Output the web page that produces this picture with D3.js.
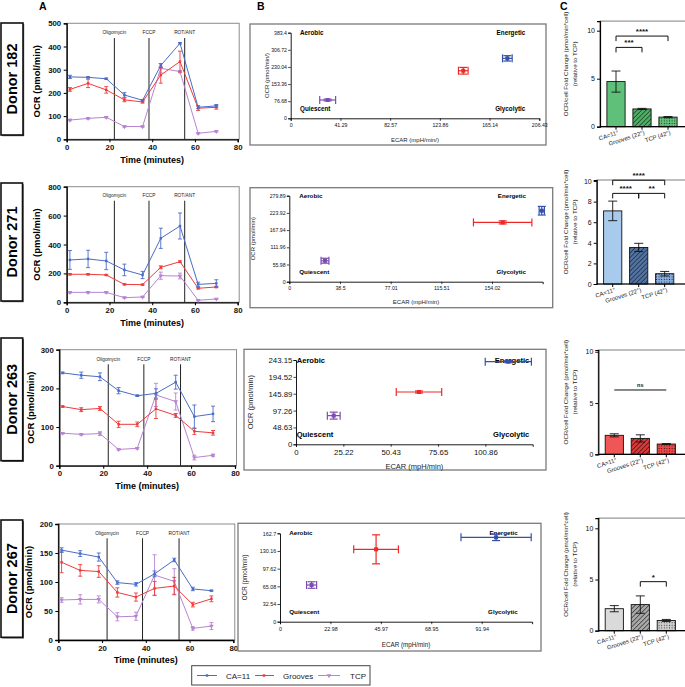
<!DOCTYPE html>
<html><head><meta charset="utf-8">
<script src="https://cdn.jsdelivr.net/npm/d3@7"></script>
<style>body{margin:0;background:#fff} svg{display:block;font-family:"Liberation Sans",Arial,sans-serif}</style>
</head><body><svg id="c" width="685" height="687"></svg>
<script>
// ---------------- DATA ----------------
const timePoints = [1.5, 10, 18.5, 27, 35.5, 44, 53, 61.5, 70];
const injectionNames = ["Oligomycin", "FCCP", "ROT/ANT"];
const injectionTimes = [22.3, 38.5, 55.2];
const seriesNames = ["CA=11", "Grooves", "TCP"];
const donorNames = ["Donor 182", "Donor 271", "Donor 263", "Donor 267"];

// Panel A: OCR time courses (pmol/min)
const ocr182CA = [269, 267, 261, 191, 168, 318, 414, 138, 144];
const ocr182CAErr = [7, 3, 3, 10, 4, 8, 3, 6, 6];
const ocr182GR = [215, 241, 213, 170, 161, 277, 335, 134, 138];
const ocr182GRErr = [8, 18, 14, 8, 5, 35, 45, 10, 8];
const ocr182TCP = [83, 90, 95, 55, 55, 306, 292, 26, 34];
const ocr182TCPErr = [3, 3, 3, 3, 3, 20, 5, 3, 3];

const ocr271CA = [293, 300, 286, 224, 189, 443, 528, 124, 131];
const ocr271CAErr = [65, 60, 60, 40, 25, 70, 90, 15, 25];
const ocr271GR = [194, 194, 189, 124, 122, 242, 281, 97, 106];
const ocr271GRErr = [5, 5, 4, 4, 4, 10, 6, 5, 5];
const ocr271TCP = [69, 69, 69, 32, 37, 184, 182, 14, 23];
const ocr271TCPErr = [5, 5, 5, 4, 4, 25, 20, 3, 3];

const ocr263CA = [240, 234, 230, 194, 181, 187, 216, 127, 134];
const ocr263CAErr = [2, 8, 10, 8, 2, 12, 18, 30, 20];
const ocr263GR = [153, 145, 148, 107, 107, 147, 130, 89, 85];
const ocr263GRErr = [2, 5, 5, 8, 6, 25, 5, 8, 6];
const ocr263TCP = [84, 81, 83, 42, 45, 183, 166, 21, 27];
const ocr263TCPErr = [2, 2, 5, 2, 2, 30, 22, 6, 3];

const ocr267CA = [155, 149, 143, 99, 96, 114, 138, 88, 85];
const ocr267CAErr = [4, 5, 7, 3, 3, 5, 3, 3, 1];
const ocr267GR = [134, 120, 118, 82, 74, 89, 93, 61, 71];
const ocr267GRErr = [18, 10, 10, 8, 7, 12, 15, 4, 5];
const ocr267TCP = [69, 70, 70, 40, 41, 112, 101, 20, 24];
const ocr267TCPErr = [4, 8, 6, 7, 7, 35, 22, 3, 6];

const ocrYMax = [500, 800, 300, 200];
const ocrYStep = [100, 200, 100, 50];
const timeTicks = [0, 20, 40, 60, 80];

// Panel B: energy map (order: CA=11, Grooves, TCP)
const ecar182 = [179.9, 143.3, 30.7];   const ecar182Err = [4, 4, 6.6];
const ocrB182 = [268.5, 213, 82];       const ocrB182Err = [12, 15, 4];
const ecar271 = [191.8, 162.1, 27.1];   const ecar271Err = [2, 22.2, 3];
const ocrB271 = [231, 193, 68.3];       const ocrB271Err = [14, 5, 8];
const ecar263 = [113.1, 65.5, 20.1];    const ecar263Err = [12.3, 12.1, 3.4];
const ocrB263 = [238.3, 150.9, 82.7];   const ocrB263Err = [3, 3, 10];
const ecar267 = [98.5, 43.8, 14.4];     const ecar267Err = [16, 10.2, 2.3];
const ocrB267 = [155.3, 133.2, 67.5];   const ocrB267Err = [6, 26.7, 6];

const ecarMax = [206.43, 192.52, 126.08, 114.92];
const ocrBMax = [383.4, 279.89, 243.15, 162.7];
const ecarTicks182 = ["0", "41.29", "82.57", "123.86", "165.14", "206.43"];
const ecarTicks271 = ["0", "38.5", "77.01", "115.51", "154.02"];
const ecarTicks263 = ["0", "25.22", "50.43", "75.65", "100.86"];
const ecarTicks267 = ["0", "22.98", "45.97", "68.95", "91.94"];
const ocrTicks182 = ["0", "76.68", "153.36", "230.04", "306.72", "383.4"];
const ocrTicks271 = ["0", "55.98", "111.96", "167.94", "223.92", "279.89"];
const ocrTicks263 = ["0", "48.63", "97.26", "145.89", "194.52", "243.15"];
const ocrTicks267 = ["0", "32.54", "65.08", "97.62", "130.16", "162.7"];
const quadrantNames = ["Aerobic", "Energetic", "Quiescent", "Glycolytic"];

// Panel C: fold change
const foldCats = ["CA=11°", "Grooves (22°)", "TCP (42°)"];
const fold182 = [4.7, 1.85, 1.0];  const fold182Err = [1.1, 0.06, 0.06];
const fold271 = [7.1, 3.55, 1.0];  const fold271Err = [0.95, 0.4, 0.22];
const fold263 = [1.85, 1.55, 1.0]; const fold263Err = [0.15, 0.35, 0.05];
const fold267 = [2.15, 2.55, 1.0]; const fold267Err = [0.3, 0.85, 0.1];
const sig182 = [[0, 2, 9.44, "****"], [0, 1, 8.26, "***"]];
const sig271 = [[0, 2, 10.08, "****"], [0, 1, 8.8, "****"], [1, 2, 8.8, "**"]];
const sig263 = [[0, 2, 6.27, "ns"]];
const sig267 = [[1, 2, 4.79, "*"]];

// ---------------- assembled ----------------
const ocrRows = [
  [[ocr182CA, ocr182CAErr], [ocr182GR, ocr182GRErr], [ocr182TCP, ocr182TCPErr]],
  [[ocr271CA, ocr271CAErr], [ocr271GR, ocr271GRErr], [ocr271TCP, ocr271TCPErr]],
  [[ocr263CA, ocr263CAErr], [ocr263GR, ocr263GRErr], [ocr263TCP, ocr263TCPErr]],
  [[ocr267CA, ocr267CAErr], [ocr267GR, ocr267GRErr], [ocr267TCP, ocr267TCPErr]]
];
const energyRows = [
  [ecar182, ecar182Err, ocrB182, ocrB182Err, ecarTicks182, ocrTicks182],
  [ecar271, ecar271Err, ocrB271, ocrB271Err, ecarTicks271, ocrTicks271],
  [ecar263, ecar263Err, ocrB263, ocrB263Err, ecarTicks263, ocrTicks263],
  [ecar267, ecar267Err, ocrB267, ocrB267Err, ecarTicks267, ocrTicks267]
];
const foldRows = [[fold182, fold182Err, sig182], [fold271, fold271Err, sig271], [fold263, fold263Err, sig263], [fold267, fold267Err, sig267]];

// ---------------- STYLE / LAYOUT ----------------
const lineColors = ["#4b6cc6", "#f03a3a", "#b784d2"];
const mapColors = ["#3450a8", "#ee2828", "#7c4cb0"];
const barPalettes = [
  {fill: ["#5fc07a", "#4fae66", "#64c27c"], ink: "#173a1f"},
  {fill: ["#a8caec", "#52739f", "#8cb1de"], ink: "#1b2b47"},
  {fill: ["#f05656", "#d83a3a", "#ee4a4a"], ink: "#4a0d0d"},
  {fill: ["#dadada", "#a8a8a8", "#cfcfcf"], ink: "#333"}
];

const layoutA = [
  {x0: 66.7, x1: 237.7, y0: 139.3, y1: 23.3, injLabelY: 34, injTop: 38, titleY: 162.5, ylabX: 40},
  {x0: 66.7, x1: 237.7, y0: 302.3, y1: 186.7, injLabelY: 197, injTop: 200.7, titleY: 325.5, ylabX: 40},
  {x0: 59.3, x1: 235, y0: 465.7, y1: 349.7, injLabelY: 361, injTop: 364.3, titleY: 489, ylabX: 34},
  {x0: 58.3, x1: 233.3, y0: 640, y1: 524, injLabelY: 535, injTop: 538.3, titleY: 663, ylabX: 32}
];
const donorBoxes = [[1, 23, 22, 112], [1, 183, 21.5, 118], [1, 338, 21.7, 122.7], [1, 520, 21.7, 117.3]];
const layoutB = [
  {fx0: 250, fy0: 24, fx1: 546, fy1: 145, x0: 290.7, x1: 539.3, y0: 118.3, y1: 32.7, fs: 5.2, qfs: 6.3, tfs: 6, xTitleY: 141.5, yTitleX: 269, aDx: 9.3, eDx: 14, xTitle: "ECAR (mpH/min/)", yTitle: "OCR (pmol/min/)"},
  {fx0: 250, fy0: 187.7, fx1: 552.7, fy1: 307.7, x0: 289.3, x1: 542.7, y0: 281.7, y1: 195.7, fs: 5.2, qfs: 6.2, tfs: 6, xTitleY: 304, yTitleX: 255, aDx: 10, eDx: 16.7, xTitle: "ECAR (mpH/min)", yTitle: "OCR (pmol/min)"},
  {fx0: 244, fy0: 349.3, fx1: 546, fy1: 470, x0: 296, x1: 532.7, y0: 444.3, y1: 360, fs: 7.8, qfs: 7.6, tfs: 7.5, xTitleY: 468.5, yTitleX: 253, aDx: 0.7, eDx: 3.4, xTitle: "ECAR (mpH/min)", yTitle: "OCR (pmol/min)"},
  {fx0: 238, fy0: 523.3, fx1: 541, fy1: 651, x0: 280, x1: 532.1, y0: 621.7, y1: 533.3, fs: 5.4, qfs: 6.2, tfs: 6.3, xTitleY: 646.5, yTitleX: 247, aDx: 9.3, eDx: 14.4, xTitle: "ECAR (mpH/min)", yTitle: "OCR (pmol/min)"}
];
const layoutC = [
  {ax: 600, y0: 126.7, y1: 21.1, ymax: 11, ticks: [0, 5, 10]},
  {ax: 596.7, y0: 284, y1: 180, ymax: 10.1, ticks: [0, 2, 4, 6, 8, 10]},
  {ax: 598.3, y0: 454.3, y1: 350, ymax: 10.17, ticks: [0, 5, 10]},
  {ax: 598.3, y0: 630.7, y1: 518.1, ymax: 11, ticks: [0, 5, 10]}
];

const svg = d3.select("#c");
const defs = svg.append("defs");
barPalettes.forEach((p, i) => {
  const h = defs.append("pattern").attr("id", "hatch" + i).attr("patternUnits", "userSpaceOnUse")
    .attr("width", 3.2).attr("height", 3.2).attr("patternTransform", "rotate(45)");
  h.append("rect").attr("width", 3.2).attr("height", 3.2).attr("fill", p.fill[1]);
  h.append("line").attr("x1", 0).attr("y1", 0).attr("x2", 0).attr("y2", 3.2).attr("stroke", p.ink).attr("stroke-width", 1.4);
  const d = defs.append("pattern").attr("id", "dots" + i).attr("patternUnits", "userSpaceOnUse").attr("width", 2.6).attr("height", 2.6);
  d.append("rect").attr("width", 2.6).attr("height", 2.6).attr("fill", p.fill[2]);
  d.append("circle").attr("cx", 1.3).attr("cy", 1.3).attr("r", 0.55).attr("fill", p.ink);
});

// Panel letters
[["A", 39, 10], ["B", 257, 10], ["C", 560, 10]].forEach(([t, x, y]) =>
  svg.append("text").attr("x", x).attr("y", y).attr("font-size", 10.5).attr("font-weight", "bold").text(t));

function styleAxis(g, fs, bold, w) {
  g.select(".domain").attr("stroke", "#000").attr("stroke-width", w);
  g.selectAll(".tick line").attr("stroke", "#000").attr("stroke-width", w * 0.8);
  g.selectAll(".tick text").attr("font-size", fs).attr("font-weight", bold ? "bold" : "normal")
    .attr("fill", "#111").attr("font-family", '"Liberation Sans", Arial, sans-serif');
}

// ---------------- PANEL A ----------------
ocrRows.forEach((rows, i) => {
  const L = layoutA[i];
  const g = svg.append("g");
  const [bx, by, bw, bh] = donorBoxes[i];
  g.append("rect").attr("x", bx + 1.2).attr("y", by + 1.2).attr("width", bw).attr("height", bh).attr("fill", "#555");
  g.append("rect").attr("x", bx).attr("y", by).attr("width", bw).attr("height", bh).attr("fill", "#fff").attr("stroke", "#111").attr("stroke-width", 1.6);
  g.append("text").attr("transform", `translate(${bx + bw / 2 + 5.3},${by + bh / 2}) rotate(-90)`)
    .attr("text-anchor", "middle").attr("font-size", 14.5).attr("font-weight", "bold").text(donorNames[i]);

  const x = d3.scaleLinear().domain([0, 80]).range([L.x0, L.x1]);
  const y = d3.scaleLinear().domain([0, ocrYMax[i]]).range([L.y0, L.y1]);
  g.append("rect").attr("x", L.x0).attr("y", L.y1).attr("width", L.x1 - L.x0 + 1.5).attr("height", L.y0 - L.y1)
    .attr("fill", "none").attr("stroke", "#8c8c8c").attr("stroke-width", 1);
  const xa = g.append("g").attr("transform", `translate(0,${L.y0})`)
    .call(d3.axisBottom(x).tickValues(timeTicks).tickSize(3).tickPadding(2).tickFormat(d3.format("d")));
  styleAxis(xa, 7.8, true, 1.3);
  const ya = g.append("g").attr("transform", `translate(${L.x0},0)`)
    .call(d3.axisLeft(y).tickValues(d3.range(0, ocrYMax[i] + 1, ocrYStep[i])).tickSize(3).tickPadding(2.5).tickFormat(d3.format("d")));
  styleAxis(ya, 7.8, true, 1.3);

  injectionTimes.forEach((t, k) => {
    g.append("line").attr("x1", x(t)).attr("x2", x(t)).attr("y1", L.injTop).attr("y2", L.y0)
      .attr("stroke", "#222").attr("stroke-width", 1);
    g.append("text").attr("x", x(t)).attr("y", L.injLabelY).attr("text-anchor", "middle")
      .attr("font-size", 4.8).attr("fill", "#222").text(injectionNames[k]);
  });

  [2, 1, 0].forEach(s => {
    const [vals, errs] = rows[s];
    const pts = timePoints.map((t, k) => ({t, v: vals[k], e: errs[k]}));
    const col = lineColors[s];
    g.append("path").datum(pts).attr("fill", "none").attr("stroke", col).attr("stroke-width", 1)
      .attr("d", d3.line().x(d => x(d.t)).y(d => y(d.v)));
    const eb = g.append("g").attr("stroke", col).attr("stroke-width", 0.9);
    pts.forEach(d => {
      eb.append("line").attr("x1", x(d.t)).attr("x2", x(d.t)).attr("y1", y(d.v - d.e)).attr("y2", y(d.v + d.e));
      [d.v - d.e, d.v + d.e].forEach(v => eb.append("line").attr("x1", x(d.t) - 2).attr("x2", x(d.t) + 2).attr("y1", y(v)).attr("y2", y(v)));
    });
    const sym = s === 2 ? d3.symbolTriangle : d3.symbolSquare;
    g.selectAll(null).data(pts).join("path")
      .attr("transform", d => `translate(${x(d.t)},${y(d.v)})${s === 2 ? " rotate(180)" : ""}`)
      .attr("d", d3.symbol(sym, s === 2 ? 9 : 6)).attr("fill", col);
  });

  g.append("text").attr("x", (L.x0 + L.x1) / 2).attr("y", L.titleY).attr("text-anchor", "middle")
    .attr("font-size", 9).attr("font-weight", "bold").text("Time (minutes)");
  g.append("text").attr("transform", `translate(${L.ylabX},${(L.y0 + L.y1) / 2}) rotate(-90)`)
    .attr("text-anchor", "middle").attr("font-size", 9.5).attr("font-weight", "bold").text("OCR (pmol/min)");
});

// legend
{
  const lg = svg.append("g");
  lg.append("rect").attr("x", 191.7).attr("y", 665.7).attr("width", 178.3).attr("height", 19.3)
    .attr("fill", "#fff").attr("stroke", "#444").attr("stroke-width", 1);
  const items = [[197, 217, 207, 226], [255, 274, 264, 283], [318, 340, 329, 350]];
  items.forEach(([a, b, m, tx], s) => {
    lg.append("line").attr("x1", a).attr("x2", b).attr("y1", 675.5).attr("y2", 675.5).attr("stroke", lineColors[s]).attr("stroke-width", 1);
    lg.append("path").attr("transform", `translate(${m},675.5)${s === 2 ? " rotate(180)" : ""}`)
      .attr("d", d3.symbol(s === 2 ? d3.symbolTriangle : d3.symbolSquare, s === 2 ? 9 : 6)).attr("fill", lineColors[s]);
    lg.append("text").attr("x", tx).attr("y", 678.5).attr("font-size", 8).attr("fill", "#222").text(seriesNames[s]);
  });
}

// ---------------- PANEL B ----------------
energyRows.forEach(([ecar, ecarE, ocr, ocrE, xt, yt], i) => {
  const L = layoutB[i];
  const g = svg.append("g");
  g.append("rect").attr("x", L.fx0).attr("y", L.fy0).attr("width", L.fx1 - L.fx0).attr("height", L.fy1 - L.fy0)
    .attr("fill", "#fff").attr("stroke", "#7a7a7a").attr("stroke-width", 1.3);
  const x = d3.scaleLinear().domain([0, ecarMax[i]]).range([L.x0, L.x1]);
  const y = d3.scaleLinear().domain([0, ocrBMax[i]]).range([L.y0, L.y1]);
  const xa = g.append("g").attr("transform", `translate(0,${L.y0})`)
    .call(d3.axisBottom(x).tickValues(xt.map(Number)).tickSize(2.5).tickPadding(2.5).tickFormat((d, k) => xt[k]));
  styleAxis(xa, L.fs, false, 0.9);
  const ya = g.append("g").attr("transform", `translate(${L.x0},0)`)
    .call(d3.axisLeft(y).tickValues(yt.map(Number)).tickSize(2.5).tickPadding(1.2).tickFormat((d, k) => yt[k]));
  styleAxis(ya, L.fs, false, 0.9);

  const q = [[L.x0 + L.aDx, L.y1, "start"], [L.x1 - L.eDx, L.y1, "end"], [L.x0 + L.aDx, L.y0 - 10, "start"], [L.x1 - L.eDx, L.y0 - 10, "end"]];
  q.forEach(([qx, qy, anc], k) => g.append("text").attr("x", qx).attr("y", qy).attr("dy", "0.35em")
    .attr("text-anchor", anc).attr("font-size", L.qfs).attr("font-weight", "bold").text(quadrantNames[k]));

  g.append("text").attr("x", (L.x0 + L.x1) / 2).attr("y", L.xTitleY).attr("text-anchor", "middle")
    .attr("font-size", L.tfs).attr("fill", "#222").text(L.xTitle);
  g.append("text").attr("transform", `translate(${L.yTitleX},${(L.y0 + L.y1) / 2}) rotate(-90)`)
    .attr("text-anchor", "middle").attr("font-size", L.tfs).attr("fill", "#222").text(L.yTitle);

  [2, 1, 0].forEach(s => {
    const col = mapColors[s];
    const cx = x(ecar[s]), cy = y(ocr[s]);
    const x0 = x(ecar[s] - ecarE[s]), x1 = x(ecar[s] + ecarE[s]);
    const y0 = y(ocr[s] - ocrE[s]), y1 = y(ocr[s] + ocrE[s]);
    const eg = g.append("g").attr("stroke", col).attr("stroke-width", 1.2);
    eg.append("line").attr("x1", x0).attr("x2", x1).attr("y1", cy).attr("y2", cy);
    eg.append("line").attr("x1", cx).attr("x2", cx).attr("y1", y0).attr("y2", y1);
    [x0, x1].forEach(v => eg.append("line").attr("x1", v).attr("x2", v).attr("y1", cy - 4).attr("y2", cy + 4));
    [y0, y1].forEach(v => eg.append("line").attr("x1", cx - 4).attr("x2", cx + 4).attr("y1", v).attr("y2", v));
    g.append("rect").attr("x", cx - 2).attr("y", cy - 2).attr("width", 4).attr("height", 4).attr("fill", col);
  });
});

// ---------------- PANEL C ----------------
foldRows.forEach(([vals, errs, sigs], i) => {
  const L = layoutC[i];
  const P = barPalettes[i];
  const g = svg.append("g");
  const y = d3.scaleLinear().domain([0, L.ymax]).range([L.y0, L.y1]);
  const x = d3.scaleBand().domain(foldCats).range([L.ax + 3, L.ax + 81]).paddingInner(0.3).paddingOuter(0.15);
  g.append("rect").attr("x", L.ax).attr("y", L.y1).attr("width", 700 - L.ax).attr("height", L.y0 - L.y1)
    .attr("fill", "none").attr("stroke", "#8a8a8a").attr("stroke-width", 1.1);
  const fills = ["", "url(#hatch" + i + ")", "url(#dots" + i + ")"];
  foldCats.forEach((c, k) => {
    g.append("rect").attr("x", x(c)).attr("y", y(vals[k])).attr("width", x.bandwidth()).attr("height", y(0) - y(vals[k]))
      .attr("fill", k === 0 ? P.fill[0] : fills[k]).attr("stroke", "#111").attr("stroke-width", 0.9);
    const cx = x(c) + x.bandwidth() / 2;
    const e = g.append("g").attr("stroke", "#111").attr("stroke-width", 0.9);
    e.append("line").attr("x1", cx).attr("x2", cx).attr("y1", y(vals[k] - errs[k])).attr("y2", y(vals[k] + errs[k]));
    [vals[k] - errs[k], vals[k] + errs[k]].forEach(v => e.append("line").attr("x1", cx - 4.5).attr("x2", cx + 4.5).attr("y1", y(v)).attr("y2", y(v)));
    g.append("text").attr("transform", `translate(${cx + 3},${L.y0 + 7.5}) rotate(-18)`).attr("text-anchor", "end")
      .attr("font-size", 6).attr("fill", "#222").text(c);
  });
  const ya = g.append("g").attr("transform", `translate(${L.ax},0)`)
    .call(d3.axisLeft(y).tickValues(L.ticks).tickSize(3).tickPadding(2).tickFormat(d3.format("d")));
  styleAxis(ya, 7, false, 1.2);
  const xa = g.append("g").attr("transform", `translate(0,${L.y0})`)
    .call(d3.axisBottom(x).tickSize(3).tickFormat(""));
  xa.select(".domain").attr("stroke", "#000").attr("stroke-width", 1.2);
  xa.select(".domain").attr("d", `M${L.ax},0H700`);
  xa.selectAll(".tick line").attr("stroke", "#000");

  sigs.forEach(([a, b, lvl, lab]) => {
    const xa1 = x(foldCats[a]) + x.bandwidth() / 2, xb = x(foldCats[b]) + x.bandwidth() / 2;
    const yy = y(lvl);
    const drop = lab === "ns" ? 0 : 5;
    g.append("path").attr("d", `M${xa1},${yy + drop}V${yy}H${xb}V${yy + drop}`).attr("fill", "none")
      .attr("stroke", "#111").attr("stroke-width", 1);
    g.append("text").attr("x", (xa1 + xb) / 2).attr("y", yy - (lab === "ns" ? 3 : 2)).attr("text-anchor", "middle")
      .attr("font-size", lab === "ns" ? 5.5 : 8).attr("font-weight", "bold").attr("fill", "#111").text(lab);
  });

  const cy = (L.y0 + L.y1) / 2 - 10;
  g.append("text").attr("transform", `translate(568,${cy}) rotate(-90)`).attr("text-anchor", "middle")
    .attr("font-size", 6.2).attr("fill", "#222").text("OCR/cell Fold Change (pmol/min*cell)");
  g.append("text").attr("transform", `translate(576.5,${cy}) rotate(-90)`).attr("text-anchor", "middle")
    .attr("font-size", 6.2).attr("fill", "#222").text("(relative to TCP)");
});
</script>
</body></html>
